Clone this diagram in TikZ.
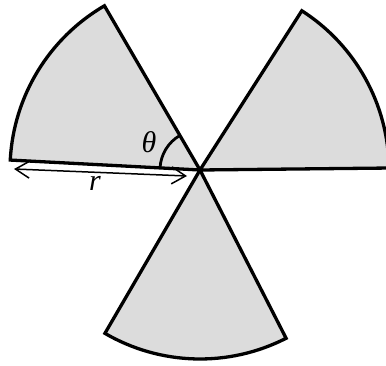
\documentclass[tikz,border=0pt]{standalone}
\usepackage{fontspec}
\setmainfont{Liberation Serif}
\usetikzlibrary{arrows.meta,calc}
\definecolor{sectorgrey}{RGB}{220,220,220}
\tikzset{
  sector/.style={fill=sectorgrey, draw=black, line width=3.3pt, line join=miter},
  anglearc/.style={draw=black, line width=2.8pt},
  dimline/.style={draw=black, line width=1.5pt, {Straight Barb[length=14pt,width=17pt]}-{Straight Barb[length=14pt,width=17pt]}},
  lbl/.style={font=\fontsize{30}{34}\selectfont\itshape, inner sep=1pt}
}
\begin{document}
\begin{tikzpicture}[x=1pt,y=1pt]
\useasboundingbox (0,0) rectangle (386,365);
\clip (0,0) rectangle (386,365);
\coordinate (c) at (200,195);
% sectors
\draw[sector] (c) -- ++(0.6:189) arc[start angle=0.6, end angle=57.4, radius=189] -- cycle;
\draw[sector] (c) -- ++(120.2:190) arc[start angle=120.2, end angle=177, radius=190] -- cycle;
\draw[sector] (c) -- ++(239.8:189) arc[start angle=239.8, end angle=297.1, radius=189] -- cycle;
% angle arc
\draw[anglearc] ($(c)+(177:40)$) arc[start angle=177, end angle=120, radius=40];
\node[lbl] (theta) at (149,223) {θ};
% dimension arrow
\coordinate (a1) at (14,196);
\coordinate (a2) at (187,189);
\draw[dimline] (a1) -- (a2);
\node[lbl, fill=white, inner sep=2pt] (r) at (95,182) {r};
\end{tikzpicture}
\end{document}
